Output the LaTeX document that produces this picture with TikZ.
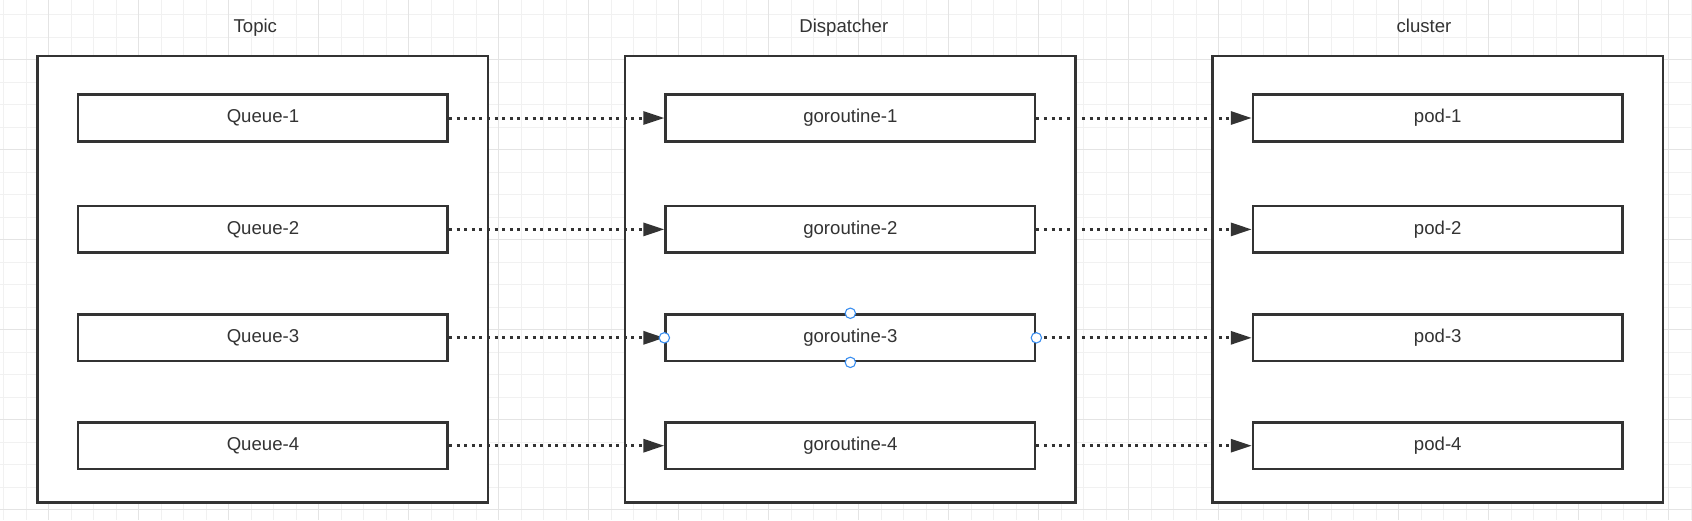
\documentclass[tikz,border=0pt]{standalone}
\usepackage{fontspec}
\setmainfont{Liberation Sans}
\usetikzlibrary{arrows.meta}
\definecolor{linegray}{HTML}{333333}
\definecolor{gridminor}{HTML}{F1F1F1}
\definecolor{gridmajor}{HTML}{E4E4E4}
\definecolor{handleblue}{HTML}{3A8EF0}
\tikzset{
    outerbox/.style={draw=linegray, line width=2.5pt, fill=white, inner sep=0pt,
        minimum width=450.5pt, minimum height=446.3pt},
    innerbox/.style={draw=linegray, line width=2.5pt, fill=white, inner sep=0pt,
        minimum width=369.5pt, minimum height=46.6pt, text=linegray,
        font=\fontsize{18.6}{22}\selectfont},
    heading/.style={anchor=base, text=linegray, inner sep=0pt,
        font=\fontsize{18.6}{22}\selectfont},
    flow/.style={draw=linegray, line width=3pt, dash pattern=on 3pt off 4.6pt,
        -{Triangle[length=21pt, width=13pt]}},
    handle/.style={draw=handleblue, fill=white, line width=1.1pt}
}
\begin{document}
\begin{tikzpicture}[x=1pt, y=-1pt]
\useasboundingbox (0,0) rectangle (1692,520);
\fill[white] (0,0) rectangle (1692,520);
% background grid
\foreach \gx in {0,...,75}
  \draw[gridminor, line width=1pt] (3.6+22.5*\gx, 0) -- (3.6+22.5*\gx, 520);
\foreach \gy in {0,...,22}
  \draw[gridminor, line width=1pt] (0, 14.5+22.5*\gy) -- (1692, 14.5+22.5*\gy);
\foreach \gx in {0,...,18}
  \draw[gridmajor, line width=1pt] (48.6+90*\gx, 0) -- (48.6+90*\gx, 520);
\foreach \gy in {0,...,5}
  \draw[gridmajor, line width=1pt] (0, 59.5+90*\gy) -- (1692, 59.5+90*\gy);

% the three groups
\node[style={outerbox}] (topic) at (262.95, 279.2) {};
\node[style={outerbox}] (dispatcher) at (850.35, 279.2) {};
\node[style={outerbox}] (cluster) at (1437.75, 279.2) {};
\node[style={heading}] (topiclabel) at (255.3, 32.7) {Topic};
\node[style={heading}] (dispatcherlabel) at (843.8, 32.7) {Dispatcher};
\node[style={heading}] (clusterlabel) at (1424, 32.7) {cluster};

% queues
\node[style={innerbox}] (q1) at (262.95, 118) {Queue-1};
\node[style={innerbox}] (q2) at (262.95, 229.4) {Queue-2};
\node[style={innerbox}] (q3) at (262.95, 337.8) {Queue-3};
\node[style={innerbox}] (q4) at (262.95, 445.7) {Queue-4};
% goroutines
\node[style={innerbox}] (g1) at (850.35, 118) {goroutine-1};
\node[style={innerbox}] (g2) at (850.35, 229.4) {goroutine-2};
\node[style={innerbox}] (g3) at (850.35, 337.8) {goroutine-3};
\node[style={innerbox}] (g4) at (850.35, 445.7) {goroutine-4};
% pods
\node[style={innerbox}] (p1) at (1437.75, 118) {pod-1};
\node[style={innerbox}] (p2) at (1437.75, 229.4) {pod-2};
\node[style={innerbox}] (p3) at (1437.75, 337.8) {pod-3};
\node[style={innerbox}] (p4) at (1437.75, 445.7) {pod-4};

\draw[style={flow}] (q1) -- (g1);
\draw[style={flow}] (q2) -- (g2);
\draw[style={flow}] (q3) -- (g3);
\draw[style={flow}] (q4) -- (g4);
\draw[style={flow}] (g1) -- (p1);
\draw[style={flow}] (g2) -- (p2);
\draw[style={flow}] (g3) -- (p3);
\draw[style={flow}] (g4) -- (p4);

% selection handles
\draw[style={handle}] (g3.west) circle (5.2);
\draw[style={handle}] (g3.east) circle (5.2);
\draw[style={handle}] (g3.north) circle (5.2);
\draw[style={handle}] (g3.south) circle (5.2);
\end{tikzpicture}
\end{document}
